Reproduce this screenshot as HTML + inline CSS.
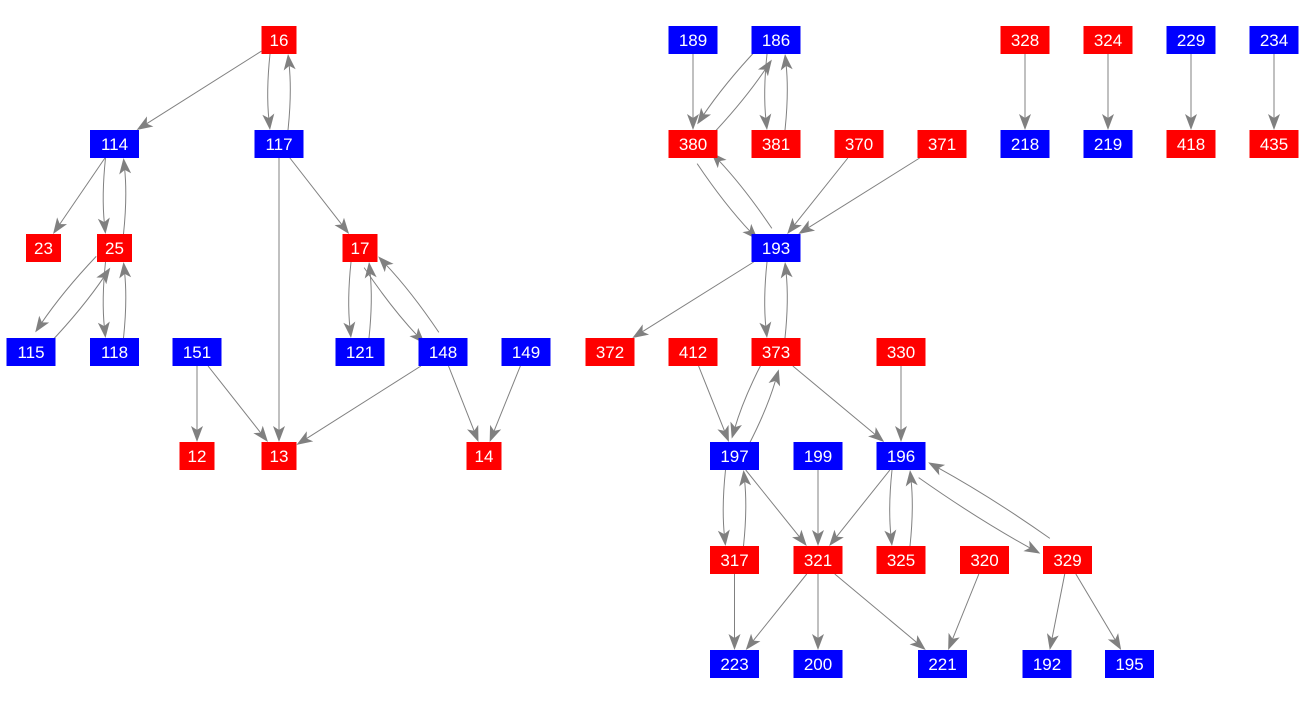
<!DOCTYPE html>
<html><head><meta charset="utf-8"><style>
html,body{margin:0;padding:0;background:#fff;}
svg{display:block}
text{font-family:"Liberation Sans",Arial,sans-serif;font-size:17px;fill:#fff;}
</style></head><body>
<svg id="g" width="1309" height="704" xmlns="http://www.w3.org/2000/svg"></svg>
<script>
const R='#ff0000',B='#0000ff';
const N={};
function n(id,x,y,c){N[id]={x:x,y:y,c:c,w:(id.length>2?49:35),h:28};}
const rows=[40,144,248,352,456,560,664];
[['16',279,0,R],['189',693,0,B],['186',776,0,B],['328',1025,0,R],['324',1108,0,R],['229',1191,0,B],['234',1274,0,B],
['114',114.5,1,B],['117',279,1,B],['380',693,1,R],['381',776,1,R],['370',859,1,R],['371',942,1,R],['218',1025,1,B],['219',1108,1,B],['418',1191,1,R],['435',1274,1,R],
['23',43.5,2,R],['25',114.5,2,R],['17',360,2,R],['193',776,2,B],
['115',31,3,B],['118',114.5,3,B],['151',197,3,B],['121',360,3,B],['148',443,3,B],['149',526,3,B],['372',610,3,R],['412',693,3,R],['373',776,3,R],['330',901,3,R],
['12',197,4,R],['13',279,4,R],['14',484,4,R],['197',734.5,4,B],['199',818,4,B],['196',901,4,B],
['317',734.5,5,R],['321',818,5,R],['325',901,5,R],['320',984.5,5,R],['329',1067.5,5,R],
['223',734.5,6,B],['200',818,6,B],['221',942.5,6,B],['192',1047,6,B],['195',1129.5,6,B]
].forEach(a=>n(a[0],a[1],rows[a[2]],a[3]));
const single=[['16','114'],['114','23'],['117','17'],['117','13'],['151','12'],['151','13'],['148','13'],['148','14'],['149','14'],
['189','380'],['370','193'],['371','193'],['328','218'],['324','219'],['229','418'],['234','435'],
['193','372'],['412','197'],['373','196'],['330','196'],['197','321'],['199','321'],['196','321'],
['317','223'],['321','223'],['321','200'],['321','221'],['320','221'],['329','192'],['329','195']];
const dbl=[['16','117'],['114','25'],['25','115'],['25','118'],['17','121'],['17','148'],['186','380'],['186','381'],['380','193'],['193','373'],['373','197'],['197','317'],['196','325'],['196','329']];
let s='';
function clip(nd,dx,dy){const L=Math.hypot(dx,dy);const ux=dx/L,uy=dy/L;
 const t=Math.min(ux?(nd.w/2)/Math.abs(ux):1e9,uy?(nd.h/2)/Math.abs(uy):1e9);return [nd.x+ux*t,nd.y+uy*t];}
function arrow(px,py,dx,dy){const L=Math.hypot(dx,dy);const ux=dx/L,uy=dy/L,vx=-uy,vy=ux;
 const l=16,w=6;const bx=px-ux*l,by=py-uy*l;const mx=px-ux*l*0.75,my=py-uy*l*0.75;
 s+=`<polygon points="${px},${py} ${bx+vx*w},${by+vy*w} ${mx},${my} ${bx-vx*w},${by-vy*w}" fill="#808080"/>`;}
function straight(a,b){const A=N[a],Bn=N[b];const dx=Bn.x-A.x,dy=Bn.y-A.y;
 const p=clip(A,dx,dy),q=clip(Bn,-dx,-dy);
 const L=Math.hypot(dx,dy);const qx=q[0]-dx/L*10,qy=q[1]-dy/L*10;
 s+=`<line x1="${p[0]}" y1="${p[1]}" x2="${qx}" y2="${qy}" stroke="#808080" stroke-width="1"/>`;arrow(q[0],q[1],dx,dy);}
function curve(a,b,side){const A=N[a],Bn=N[b];const dx=Bn.x-A.x,dy=Bn.y-A.y;const L=Math.hypot(dx,dy);
 const vx=-dy/L*side,vy=dx/L*side;const off=9;
 const A2={...A,x:A.x+vx*off,y:A.y+vy*off},B2={...Bn,x:Bn.x+vx*off,y:Bn.y+vy*off};
 const p=clip(A2,dx,dy),q=clip(B2,-dx,-dy);
 const cx=(p[0]+q[0])/2+vx*4,cy=(p[1]+q[1])/2+vy*4;
 const tx=q[0]-cx,ty=q[1]-cy;const tl=Math.hypot(tx,ty);const ex=q[0]-tx/tl*10,ey=q[1]-ty/tl*10;
 s+=`<path d="M${p[0]},${p[1]} Q${cx},${cy} ${ex},${ey}" fill="none" stroke="#808080" stroke-width="1"/>`;arrow(q[0],q[1],tx,ty);}
single.forEach(e=>straight(e[0],e[1]));
dbl.forEach(e=>{curve(e[0],e[1],1);curve(e[1],e[0],1);});
for(const k in N){const d=N[k];
 s+=`<rect x="${d.x-d.w/2}" y="${d.y-d.h/2}" width="${d.w}" height="${d.h}" fill="${d.c}"/>`;
 s+=`<text x="${d.x}" y="${d.y+6}" text-anchor="middle">${k}</text>`;}
document.getElementById('g').innerHTML=s;
</script>
</body></html>
